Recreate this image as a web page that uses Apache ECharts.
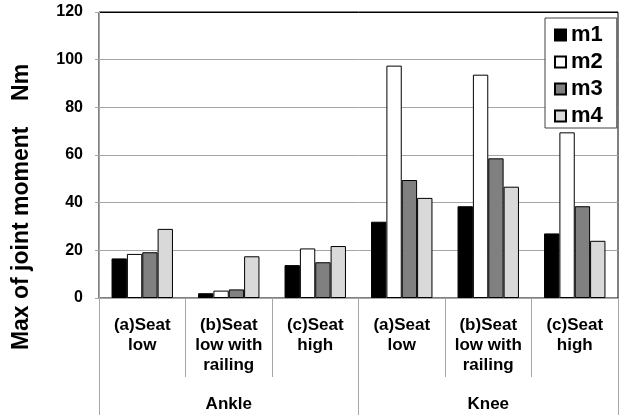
<!DOCTYPE html>
<html>
<head>
<meta charset="utf-8">
<script src="https://cdn.jsdelivr.net/npm/echarts@6/dist/echarts.min.js"></script>
<style>
  html, body { margin: 0; padding: 0; background: #fff; }
  #chart { width: 619px; height: 415px; }
</style>
</head>
<body>
<div id="chart"></div>
<script>
  var categories = ['(a)Seat\nlow', '(b)Seat\nlow with\nrailing', '(c)Seat\nhigh',
                    '(a)Seat\nlow', '(b)Seat\nlow with\nrailing', '(c)Seat\nhigh'];
  var groups = ['Ankle', 'Knee'];
  var m1 = [16.6, 2.0, 13.8, 32.0, 38.5, 27.1];
  var m2 = [18.5, 3.1, 20.8, 97.5, 93.7, 69.5];
  var m3 = [19.2, 3.6, 15.0, 49.5, 58.6, 38.5];
  var m4 = [29.0, 17.5, 21.8, 42.0, 46.7, 24.0];

  var font = 'Arial, "Liberation Sans", sans-serif';
  var gridGray = '#a6a6a6';

  function bar(name, values, color) {
    return {
      name: name,
      type: 'bar',
      data: values,
      barGap: '0%',
      barCategoryGap: '29%',
      itemStyle: { color: color, borderColor: '#000', borderWidth: 1 }
    };
  }

  var chart = echarts.init(document.getElementById('chart'));
  chart.setOption({
    animation: false,
    textStyle: { fontFamily: font },
    grid: {
      left: 99, right: 1, top: 12, bottom: 117,
      show: true, borderColor: '#000', borderWidth: 1
    },
    legend: {
      orient: 'vertical',
      left: 545, top: 18,
      data: ['m1', 'm2', 'm3', 'm4'],
      icon: 'rect',
      itemWidth: 11, itemHeight: 11,
      itemGap: 5,
      itemTextGap: 6,
      padding: [6, 14, 1, 9],
      backgroundColor: '#fff',
      borderColor: '#404040',
      borderWidth: 1,
      textStyle: { fontSize: 22, fontWeight: 'bold', color: '#000', fontFamily: font, lineHeight: 22 }
    },
    xAxis: [{
      type: 'category',
      data: categories,
      position: 'bottom',
      axisLine: { show: true, lineStyle: { color: gridGray } },
      axisTick: { show: true, length: 79, lineStyle: { color: gridGray } },
      axisLabel: {
        interval: 0, margin: 17, color: '#000',
        fontSize: 17, fontWeight: 'bold', lineHeight: 20, fontFamily: font
      }
    }, {
      type: 'category',
      data: groups,
      position: 'bottom',
      axisLine: { show: false },
      axisTick: { show: true, length: 117, lineStyle: { color: gridGray } },
      axisLabel: {
        interval: 0, margin: 96, color: '#000',
        fontSize: 17, fontWeight: 'bold', lineHeight: 20, fontFamily: font
      }
    }],
    yAxis: {
      type: 'value',
      min: 0, max: 120, interval: 20,
      axisLine: { show: true, lineStyle: { color: gridGray } },
      axisTick: { show: true, length: 4, lineStyle: { color: gridGray } },
      axisLabel: { margin: 16, color: '#000', fontSize: 16, fontWeight: 'bold', fontFamily: font },
      splitLine: {
        lineStyle: { color: [gridGray, gridGray, gridGray, gridGray, gridGray, gridGray, '#000'] }
      }
    },
    graphic: [{
      type: 'text',
      x: 22, y: 207,
      rotation: Math.PI / 2,
      style: {
        text: 'Max of joint moment    Nm',
        font: 'bold 23px ' + font,
        fill: '#000',
        align: 'center',
        verticalAlign: 'middle'
      }
    }],
    series: [
      bar('m1', m1, '#000000'),
      bar('m2', m2, '#ffffff'),
      bar('m3', m3, '#808080'),
      bar('m4', m4, '#d9d9d9')
    ]
  });
</script>
</body>
</html>
